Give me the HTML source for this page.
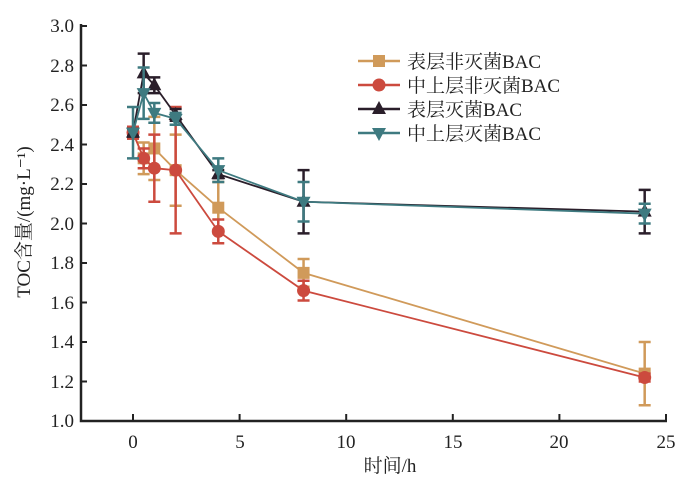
<!DOCTYPE html>
<html><head><meta charset="utf-8"><style>
html,body{margin:0;padding:0;background:#fff;}
svg{display:block;font-family:"Liberation Serif","Noto Serif CJK SC",serif;}
</style></head><body>
<svg id="c" width="698" height="478" viewBox="0 0 698 478" xmlns="http://www.w3.org/2000/svg">
<g id="axes" stroke="#222" stroke-width="2.5" fill="none">
<path d="M81 24 V421 H667"/>
</g>
<g id="g"></g>
<g font-size="19" fill="#222">
<text x="74" y="427" text-anchor="end">1.0</text>
<text x="74" y="388" text-anchor="end">1.2</text>
<text x="74" y="348" text-anchor="end">1.4</text>
<text x="74" y="309" text-anchor="end">1.6</text>
<text x="74" y="269" text-anchor="end">1.8</text>
<text x="74" y="230" text-anchor="end">2.0</text>
<text x="74" y="190" text-anchor="end">2.2</text>
<text x="74" y="151" text-anchor="end">2.4</text>
<text x="74" y="111" text-anchor="end">2.6</text>
<text x="74" y="72" text-anchor="end">2.8</text>
<text x="74" y="32" text-anchor="end">3.0</text>
<text x="133" y="448" text-anchor="middle">0</text>
<text x="240" y="448" text-anchor="middle">5</text>
<text x="346" y="448" text-anchor="middle">10</text>
<text x="453" y="448" text-anchor="middle">15</text>
<text x="559" y="448" text-anchor="middle">20</text>
<text x="666" y="448" text-anchor="middle">25</text>
<text x="390" y="472" text-anchor="middle">时间/h</text>
<text transform="translate(30 222) rotate(-90)" text-anchor="middle">TOC含量/(mg·L⁻¹)</text>
<text x="407" y="68">表层非灭菌BAC</text>
<text x="407" y="92">中上层非灭菌BAC</text>
<text x="407" y="116">表层灭菌BAC</text>
<text x="407" y="140">中上层灭菌BAC</text>
</g>
</svg>
<script>
var X=t=>133+t*21.32, Y=v=>421-(v-1)*197.5;
var g=document.getElementById('g'),s='';
for(var v=1.2;v<3.01;v+=0.2)s+='<line x1="81" x2="87" y1="'+Y(v)+'" y2="'+Y(v)+'" stroke="#222" stroke-width="2"/>';
[0,5,10,15,20,25].forEach(t=>s+='<line x1="'+X(t)+'" x2="'+X(t)+'" y1="421" y2="414" stroke="#222" stroke-width="2"/>');
var T=[0,0.5,1,2,4,8,24];
var S=[
{c:'#d09a5a',m:'sq',v:[2.46,2.33,2.38,2.27,2.08,1.75,1.24],e:[0.03,0.08,0.16,0.18,0.13,0.07,0.16]},
{c:'#cc4a3e',m:'ci',v:[2.46,2.33,2.28,2.27,1.96,1.66,1.22],e:[0.03,0.05,0.17,0.32,0.06,0.05,0.02]},
{c:'#2a1e2a',m:'up',v:[2.46,2.76,2.70,2.55,2.25,2.11,2.06],e:[0.02,0.10,0.04,0.03,0.02,0.16,0.11]},
{c:'#3e7a80',m:'dn',v:[2.46,2.66,2.56,2.53,2.27,2.11,2.05],e:[0.13,0.13,0.05,0.03,0.06,0.10,0.05]}];
function mk(m,x,y,c){
 if(m=='sq')return '<rect x="'+(x-6)+'" y="'+(y-6)+'" width="12" height="12" fill="'+c+'"/>';
 if(m=='ci')return '<circle cx="'+x+'" cy="'+y+'" r="6.5" fill="'+c+'"/>';
 if(m=='up')return '<polygon points="'+x+','+(y-8)+' '+(x-7)+','+(y+5)+' '+(x+7)+','+(y+5)+'" fill="'+c+'"/>';
 return '<polygon points="'+x+','+(y+8)+' '+(x-7)+','+(y-5)+' '+(x+7)+','+(y-5)+'" fill="'+c+'"/>';
}
S.forEach((d,k)=>{
 var p=T.map((t,i)=>X(t)+','+Y(d.v[i])).join(' ');
 s+='<polyline points="'+p+'" fill="none" stroke="'+d.c+'" stroke-width="1.8"/>';
 T.forEach((t,i)=>{var x=X(t),a=Y(d.v[i]+d.e[i]),b=Y(d.v[i]-d.e[i]);
  s+='<path d="M'+x+' '+a+'V'+b+'M'+(x-6)+' '+a+'h12M'+(x-6)+' '+b+'h12" stroke="'+d.c+'" stroke-width="2.5" fill="none"/>';
  s+=mk(d.m,x,Y(d.v[i]),d.c);});
 var ly=61+k*24;
 s+='<line x1="358" x2="400" y1="'+ly+'" y2="'+ly+'" stroke="'+d.c+'" stroke-width="2.5"/>'+mk(d.m,379,ly,d.c);
});
g.innerHTML=s;
</script>
</body></html>
